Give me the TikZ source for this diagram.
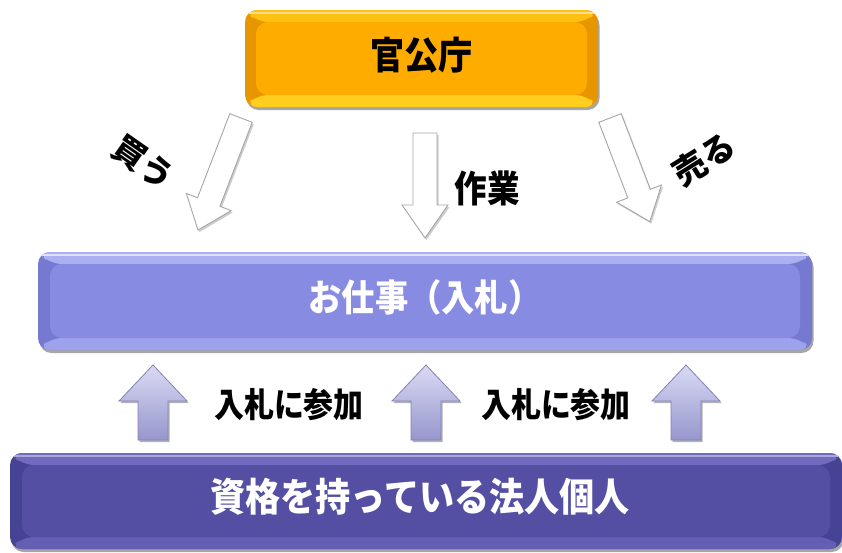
\documentclass[tikz,border=0pt]{standalone}
\usepackage{fontspec}
\newfontfamily\cjk{Noto Sans CJK JP}
\usetikzlibrary{shadows}
\definecolor{orface}{RGB}{255,172,0}
\definecolor{ortop}{RGB}{255,192,20}
\definecolor{orbot}{RGB}{255,206,30}
\definecolor{orside}{RGB}{232,150,0}
\definecolor{mface}{RGB}{136,139,226}
\definecolor{mtop}{RGB}{172,175,242}
\definecolor{mbot}{RGB}{158,161,236}
\definecolor{mside}{RGB}{118,121,208}
\definecolor{bface}{RGB}{84,79,162}
\definecolor{btop}{RGB}{112,107,190}
\definecolor{bbot}{RGB}{100,95,178}
\definecolor{bside}{RGB}{70,66,148}
\definecolor{uptop}{RGB}{218,218,244}
\definecolor{upbot}{RGB}{150,150,205}
\definecolor{upline}{RGB}{130,130,185}
\newcommand\bevfill[6]{%
  \coordinate (pA) at (path picture bounding box.north west);
  \coordinate (pC) at (path picture bounding box.south east);
  \coordinate (pB) at (path picture bounding box.north east);
  \coordinate (pD) at (path picture bounding box.south west);
  \fill[#1] (pA) -- (pB) -- ([xshift=-#5,yshift=-#6]pB) -- ([xshift=#5,yshift=-#6]pA) -- cycle;
  \fill[#2] (pD) -- (pC) -- ([xshift=-#5,yshift=#6]pC) -- ([xshift=#5,yshift=#6]pD) -- cycle;
  \fill[#3] ([xshift=#5,yshift=-#6]pA) rectangle ([xshift=-#5,yshift=#6]pC);
  \draw[#4,line width=1.2pt] ([yshift=-3pt]pA) -- ([yshift=-3pt]pB);
}
\newcommand\arrowpath[4]{(0,#2) -- (#1-#4,#2) -- (#1-#4,#3) -- (#1,0) -- (#1-#4,-#3) -- (#1-#4,-#2) -- (0,-#2) -- cycle}
\tikzset{
  bevelbox/.style={rounded corners=12pt, inner sep=0pt, draw=none,
    drop shadow={shadow xshift=1.5pt, shadow yshift=-3pt, opacity=0.35, fill=black}},
  downarr/.style={fill=white, draw=black!35, line width=0.9pt,
    drop shadow={shadow xshift=1.5pt, shadow yshift=-2pt, opacity=0.2, fill=black}},
  uparr/.style={top color=uptop, bottom color=upbot, draw=upline, line width=0.8pt,
    drop shadow={shadow xshift=1.5pt, shadow yshift=-2pt, opacity=0.3, fill=black}},
  lbl/.style={font=\cjk\bfseries\fontsize{34}{34}\selectfont, text=black, inner sep=0pt, xscale=0.88},
  rlbl/.style={font=\cjk\bfseries\fontsize{33}{33}\selectfont, text=black, inner sep=0pt},
  bigl/.style={font=\cjk\bfseries\fontsize{36}{36}\selectfont, text=black, inner sep=0pt, xscale=0.9},
}
\begin{document}
\begin{tikzpicture}[x=1pt,y=-1pt]
\useasboundingbox (0,0) rectangle (842,552);
\fill[white] (0,0) rectangle (842,552);

% boxes
\node[bevelbox, minimum width=353pt, minimum height=97pt, fill=orside,
  path picture={\bevfill{ortop}{orbot}{orface}{white!50!ortop}{11pt}{12pt}}] (gov) at (421.5,58.5) {};
\node[bigl, font=\cjk\bfseries\fontsize{38}{38}\selectfont] (govt) at ([yshift=3pt]gov.center) {官公庁};

\node[bevelbox, minimum width=774pt, minimum height=98pt, fill=mside,
  path picture={\bevfill{mtop}{mbot}{mface}{white!60!mtop}{12pt}{12pt}}] (job) at (425,301) {};
\node[bigl, text=white, font=\cjk\bfseries\fontsize{37}{37}\selectfont] (jobt) at ([yshift=4pt]job.center) {お仕事（入札）};

\node[bevelbox, minimum width=832pt, minimum height=96pt, fill=bside,
  path picture={\bevfill{btop}{bbot}{bface}{white!40!btop}{12pt}{12pt}}] (ppl) at (426,501) {};
\node[bigl, text=white, font=\cjk\bfseries\fontsize{39}{39}\selectfont] (pplt) at ([xshift=-6pt,yshift=4pt]ppl.center) {資格を持っている法人個人};

% down arrows
\begin{scope}[shift={(241,118)}, rotate=-111]
  \path[downarr] \arrowpath{120}{12}{24}{30};
\end{scope}
\begin{scope}[shift={(425,133)}, rotate=-90]
  \path[downarr] \arrowpath{105}{12}{23}{33};
\end{scope}
\begin{scope}[shift={(610,118)}, rotate=-69]
  \path[downarr] \arrowpath{111}{12}{24}{30};
\end{scope}

% up arrows
\foreach \ux in {153,426,686}{
  \begin{scope}[shift={(\ux,440)}, rotate=90]
    \path[uparr] \arrowpath{75}{15}{34}{36};
  \end{scope}
}

% labels
\node[rlbl, rotate=-35] (buy) at (143,163) {買う};
\node[lbl, font=\cjk\bfseries\fontsize{37}{37}\selectfont] (work) at (487,188) {作業};
\node[rlbl, rotate=32] (sell) at (704,159) {売る};
\node[lbl] (join1) at (289,405) {入札に参加};
\node[lbl] (join2) at (556,405) {入札に参加};
\end{tikzpicture}
\end{document}
